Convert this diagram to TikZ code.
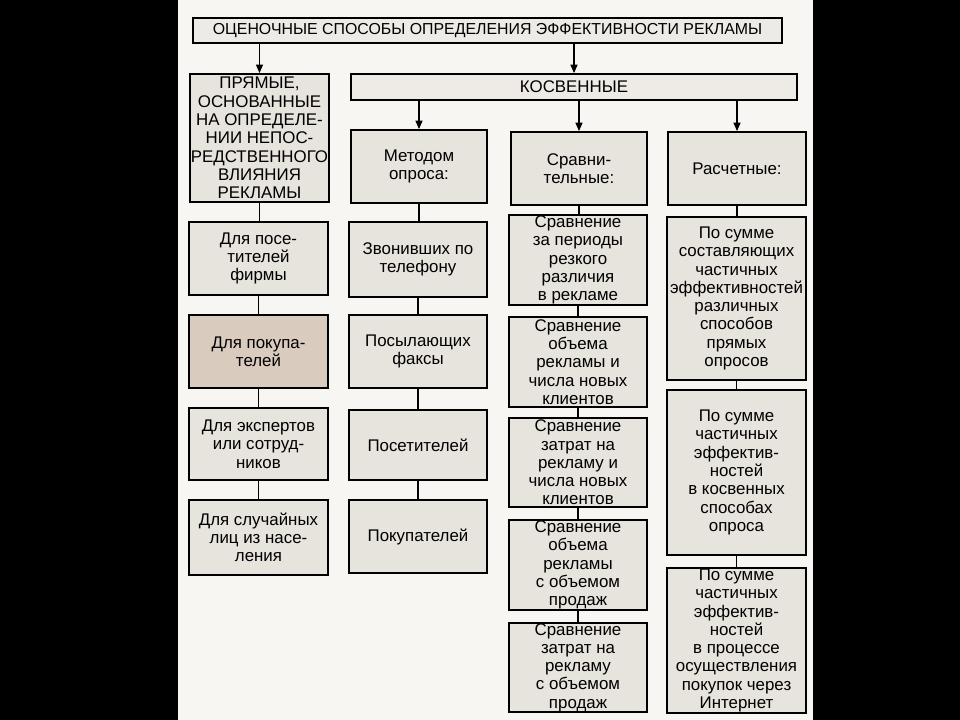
\documentclass[tikz,border=0pt]{standalone}
\usepackage{fontspec}
\setmainfont{Liberation Sans}
\usetikzlibrary{arrows.meta}

\definecolor{pagebg}{HTML}{F7F6F3}
\definecolor{cellfill}{HTML}{E7E3DD}
\definecolor{tanfill}{HTML}{DACBBF}
\definecolor{headfill}{HTML}{EEEBE6}

\tikzset{
  cell/.style={draw=black, line width=1.3pt, fill=cellfill, align=center,
    inner sep=0pt, font=\fontsize{12}{13}\selectfont},
  link/.style={line width=0.8pt},
  into/.style={line width=0.8pt, -{Triangle[length=6pt,width=5pt]}},
}

\begin{document}
\begin{tikzpicture}[x=0.025cm, y=-0.025cm]
  \useasboundingbox (0,0) rectangle (960,720);
  \fill[black] (0,0) rectangle (960,720);
  \fill[pagebg] (178,0) rectangle (813,720);

  % top level
  \node[cell, fill=headfill, minimum width=14.725cm, minimum height=0.625cm,
    font=\fontsize{11.3}{13}\selectfont] (title) at (487.5,30.5)
    {ОЦЕНОЧНЫЕ СПОСОБЫ ОПРЕДЕЛЕНИЯ ЭФФЕКТИВНОСТИ РЕКЛАМЫ};
  \node[cell, minimum width=3.475cm, minimum height=3.2cm] (pryam) at (259.5,138)
    {ПРЯМЫЕ,\\ОСНОВАННЫЕ\\НА ОПРЕДЕЛЕ-\\НИИ НЕПОС-\\РЕДСТВЕННОГО\\ВЛИЯНИЯ\\РЕКЛАМЫ};
  \node[cell, fill=headfill, minimum width=11.15cm, minimum height=0.65cm] (kos) at (574,87)
    {КОСВЕННЫЕ};

  % kinds of indirect ways
  \node[cell, minimum width=3.4cm, minimum height=1.825cm] (met) at (419,166.5)
    {Методом\\опроса:};
  \node[cell, minimum width=3.4cm, minimum height=1.825cm] (srav) at (579,168.5)
    {Сравни-\\тельные:};
  \node[cell, minimum width=3.45cm, minimum height=1.825cm] (rasch) at (737,168.5)
    {Расчетные:};

  % direct column
  \node[cell, minimum width=3.475cm, minimum height=1.825cm] (pr1) at (258.5,258.5)
    {Для посе-\\тителей\\фирмы};
  \node[cell, fill=tanfill, minimum width=3.475cm, minimum height=1.825cm] (pr2) at (258.5,351.5)
    {Для покупа-\\телей};
  \node[cell, minimum width=3.475cm, minimum height=1.8cm] (pr3) at (258.5,444)
    {Для экспертов\\или сотруд-\\ников};
  \node[cell, minimum width=3.475cm, minimum height=1.875cm] (pr4) at (258.5,537.5)
    {Для случайных\\лиц из насе-\\ления};

  % survey column
  \node[cell, minimum width=3.45cm, minimum height=1.875cm] (op1) at (418,259.5)
    {Звонивших по\\телефону};
  \node[cell, minimum width=3.45cm, minimum height=1.825cm] (op2) at (418,351.5)
    {Посылающих\\факсы};
  \node[cell, minimum width=3.45cm, minimum height=1.75cm] (op3) at (418,445)
    {Посетителей};
  \node[cell, minimum width=3.45cm, minimum height=1.825cm] (op4) at (418,536.5)
    {Покупателей};

  % comparison column
  \node[cell, minimum width=3.45cm, minimum height=2.25cm] (cm1) at (578,260)
    {Сравнение\\за периоды\\резкого\\различия\\в рекламе};
  \node[cell, minimum width=3.45cm, minimum height=2.25cm] (cm2) at (578,362)
    {Сравнение\\объема\\рекламы и\\числа новых\\клиентов};
  \node[cell, minimum width=3.45cm, minimum height=2.225cm] (cm3) at (578,462.5)
    {Сравнение\\затрат на\\рекламу и\\числа новых\\клиентов};
  \node[cell, minimum width=3.45cm, minimum height=2.25cm] (cm4) at (578,565)
    {Сравнение\\объема\\рекламы\\с объемом\\продаж};
  \node[cell, minimum width=3.45cm, minimum height=2.225cm] (cm5) at (578,667.5)
    {Сравнение\\затрат на\\рекламу\\с объемом\\продаж};

  % calculation column
  \node[cell, minimum width=3.475cm, minimum height=4.075cm] (rs1) at (736.5,298.5)
    {По сумме\\составляющих\\частичных\\эффективностей\\различных\\способов\\прямых\\опросов};
  \node[cell, minimum width=3.475cm, minimum height=4.125cm] (rs2) at (736.5,472.5)
    {По сумме\\частичных\\эффектив-\\ностей\\в косвенных\\способах\\опроса};
  \node[cell, minimum width=3.475cm, minimum height=3.625cm] (rs3) at (736.5,640.5)
    {По сумме\\частичных\\эффектив-\\ностей\\в процессе\\осуществления\\покупок через\\Интернет};

  % arrows
  \draw[into] (title.south -| pryam.north) -- (pryam.north);
  \draw[into] (title.south -| kos.north) -- (kos.north);
  \draw[into] (kos.south -| met.north) -- (met.north);
  \draw[into] (kos.south -| srav.north) -- (srav.north);
  \draw[into] (kos.south -| rasch.north) -- (rasch.north);

  % plain links
  \draw[link] (pryam.south) -- (pryam.south |- pr1.north);
  \draw[link] (pr1.south) -- (pr2.north);
  \draw[link] (pr2.south) -- (pr3.north);
  \draw[link] (pr3.south) -- (pr4.north);
  \draw[link] (met.south) -- (met.south |- op1.north);
  \draw[link] (op1.south) -- (op2.north);
  \draw[link] (op2.south) -- (op3.north);
  \draw[link] (op3.south) -- (op4.north);
  \draw[link] (srav.south) -- (srav.south |- cm1.north);
  \draw[link] (cm1.south) -- (cm2.north);
  \draw[link] (cm2.south) -- (cm3.north);
  \draw[link] (cm3.south) -- (cm4.north);
  \draw[link] (cm4.south) -- (cm5.north);
  \draw[link] (rasch.south) -- (rasch.south |- rs1.north);
  \draw[link] (rs1.south) -- (rs2.north);
  \draw[link] (rs2.south) -- (rs3.north);
\end{tikzpicture}
\end{document}
